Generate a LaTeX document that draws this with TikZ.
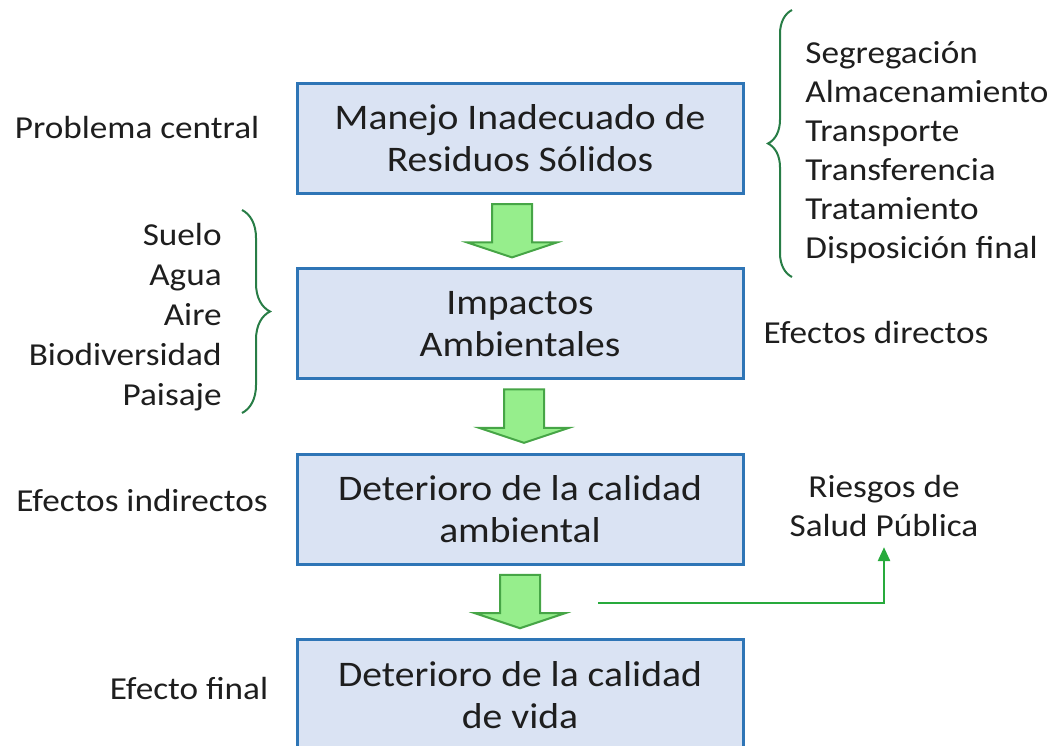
\documentclass[tikz,border=0pt]{standalone}
\usepackage{fontspec}
\setmainfont{Carlito}[FakeStretch=1.1]
\usepackage{xcolor}
\definecolor{colorCaja}{RGB}{218,227,243}
\definecolor{colorBorde}{RGB}{46,117,182}
\definecolor{colorFlecha}{RGB}{150,238,140}
\definecolor{colorBordeFlecha}{RGB}{70,165,70}
\definecolor{colorLlave}{RGB}{40,125,70}
\definecolor{colorConector}{RGB}{40,170,60}
\definecolor{colorTexto}{RGB}{30,30,30}
\usetikzlibrary{arrows.meta, positioning, calc, decorations.pathreplacing}

% flecha de bloque entre dos cajas: #1 arriba, #2 abajo, #3 desplazamiento en x
\newcommand{\flechabloque}[3]{%
  \draw[flecha] ($(#1.south)+(#3-20,9)$) -- ++(40,0) -- ($(#2.north)+(#3+20,-25)$) -- ++(25,0)
    -- ($(#2.north)+(#3,-10)$) -- ($(#2.north)+(#3-45,-25)$) -- ++(25,0) -- cycle;}

\begin{document}
\begin{tikzpicture}[x=0.5pt, y=-0.5pt, node distance=36.2pt, every node/.style={text=colorTexto},
  caja/.style={draw=colorBorde, line width=1.5pt, fill=colorCaja, minimum width=223pt, minimum height=55pt, align=center, inner sep=0pt, font=\fontsize{18}{21}\selectfont},
  etiqueta/.style={inner sep=0pt, font=\fontsize{16}{19.5}\selectfont},
  flecha/.style={draw=colorBordeFlecha, fill=colorFlecha, line width=1pt, line join=miter},
  llave/.style={decorate, decoration={brace, amplitude=#1}, draw=colorLlave, line width=1pt}]
\useasboundingbox (0,0) rectangle (1059,745);
\clip (0,0) rectangle (1059,745);

% cajas
\node[caja] (b1) at (520,138.5) {Manejo Inadecuado de\\Residuos Sólidos};
\node[caja, below=of b1] (b2) {Impactos\\Ambientales};
\node[caja, below=of b2] (b3) {Deterioro de la calidad\\ambiental};
\node[caja, below=of b3] (b4) {Deterioro de la calidad\\de vida};

\flechabloque{b1}{b2}{-8}
\flechabloque{b2}{b3}{4}
\flechabloque{b3}{b4}{0}

% etiquetas
\node[etiqueta] (problema) at (137,128) {Problema central};
\node[etiqueta] (indirectos) at (142,500) {Efectos indirectos};
\node[etiqueta] (final) at (189,688) {Efecto final};
\node[etiqueta] (directos) at (876,332) {Efectos directos};
\node[etiqueta, align=right, anchor=east, font=\fontsize{16}{20}\selectfont] (medios) at (222,317) {Suelo\\Agua\\Aire\\Biodiversidad\\Paisaje};
\node[etiqueta, align=left, anchor=west] (etapas) at (805,152.5) {Segregación\\Almacenamiento\\Transporte\\Transferencia\\Tratamiento\\Disposición final};
\node[etiqueta, align=center, inner sep=5pt] (riesgos) at (884,506) {Riesgos de\\Salud Pública};

% llaves
\draw[llave=14pt] (242,210) -- (242,413);
\draw[llave=12pt] (792,277) -- (792,10);

\coordinate (inicio) at (598,603);
\draw[colorConector, line width=1.3pt, -{Triangle[length=7pt,width=6pt]}] (inicio) -| (riesgos.south);
\end{tikzpicture}
\end{document}
